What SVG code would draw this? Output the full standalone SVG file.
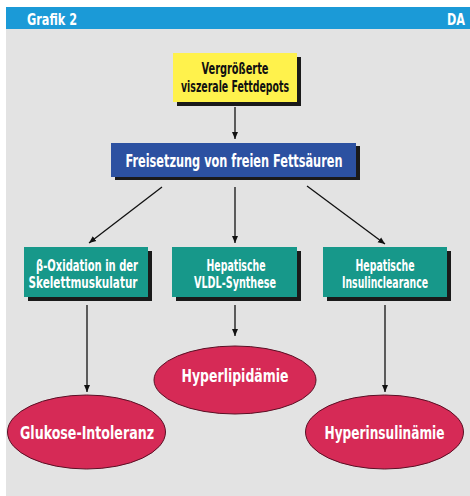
<svg xmlns="http://www.w3.org/2000/svg" width="470" height="496" viewBox="0 0 470 496">
<defs>
<marker id="ah" markerWidth="8" markerHeight="8" refX="7" refY="4" orient="auto" markerUnits="userSpaceOnUse">
<path d="M0,1 L7,4 L0,7 z" fill="#111"/>
</marker>
<style>
text{font-family:"DejaVu Sans Condensed","Liberation Sans Narrow","Liberation Sans",sans-serif;font-weight:bold;text-anchor:middle}
.shadow{fill:#1a1a1a}
.yel{fill:#fff24c}
.blue{fill:#2c51a1}
.teal{fill:#17988a}
.ell{fill:#d62a56;stroke:#5a1025;stroke-width:1}
.w{fill:#ffffff}
.k{fill:#111111}
.conn line{stroke:#111;stroke-width:1.3;marker-end:url(#ah)}
</style>
</defs>
<rect x="0" y="0" width="470" height="496" fill="#ffffff"/>
<rect x="6" y="29" width="464" height="467" fill="#e3e3e3"/>
<g id="header">
<rect x="6" y="7" width="464" height="22" fill="#1b9ad7"/>
<text x="52" y="25" font-size="16" class="w" textLength="50" lengthAdjust="spacingAndGlyphs">Grafik 2</text>
<text x="456" y="25" font-size="16" class="w" textLength="18" lengthAdjust="spacingAndGlyphs">DA</text>
</g>
<g class="conn">
<line x1="235" y1="107" x2="235" y2="139"/>
<line x1="162" y1="187" x2="89" y2="243"/>
<line x1="235" y1="187" x2="235" y2="243"/>
<line x1="307" y1="186" x2="385" y2="244"/>
<line x1="87" y1="305" x2="87" y2="392"/>
<line x1="235" y1="305" x2="235" y2="336"/>
<line x1="385" y1="305" x2="385" y2="392"/>
</g>
<g id="fettdepots">
<rect x="177" y="57" width="124" height="49" class="shadow"/>
<rect x="173" y="53" width="124" height="49" class="yel"/>
<text x="235" y="73.5" font-size="16" class="k" textLength="67" lengthAdjust="spacingAndGlyphs">Vergrößerte</text>
<text x="235" y="92" font-size="16" class="k" textLength="108" lengthAdjust="spacingAndGlyphs">viszerale Fettdepots</text>
</g>
<g id="fettsaeuren">
<rect x="115" y="146" width="245" height="34" class="shadow"/>
<rect x="111" y="143" width="245" height="34" class="blue"/>
<text x="234" y="167" font-size="18" class="w" textLength="217" lengthAdjust="spacingAndGlyphs">Freisetzung von freien Fettsäuren</text>
</g>
<g id="oxidation">
<rect x="28" y="251" width="124" height="50" class="shadow"/>
<rect x="24" y="247" width="124" height="50" class="teal"/>
<text x="87" y="271" font-size="15.5" class="w" textLength="102" lengthAdjust="spacingAndGlyphs">β-Oxidation in der</text>
<text x="83" y="288" font-size="15.5" class="w" textLength="109" lengthAdjust="spacingAndGlyphs">Skelettmuskulatur</text>
</g>
<g id="vldl">
<rect x="176" y="251" width="125" height="50" class="shadow"/>
<rect x="172" y="247" width="125" height="50" class="teal"/>
<text x="236" y="271" font-size="15.5" class="w" textLength="59" lengthAdjust="spacingAndGlyphs">Hepatische</text>
<text x="235" y="288" font-size="15.5" class="w" textLength="82" lengthAdjust="spacingAndGlyphs">VLDL-Synthese</text>
</g>
<g id="insulinclearance">
<rect x="327" y="251" width="124" height="50" class="shadow"/>
<rect x="323" y="247" width="124" height="50" class="teal"/>
<text x="385" y="271" font-size="15.5" class="w" textLength="59" lengthAdjust="spacingAndGlyphs">Hepatische</text>
<text x="385" y="288" font-size="15.5" class="w" textLength="86" lengthAdjust="spacingAndGlyphs">Insulinclearance</text>
</g>
<g id="hyperlipidaemie">
<ellipse cx="235" cy="380" rx="81" ry="34" class="ell"/>
<text x="235" y="382" font-size="18" class="w" textLength="107" lengthAdjust="spacingAndGlyphs">Hyperlipidämie</text>
</g>
<g id="glukose">
<ellipse cx="86.5" cy="432" rx="79" ry="37" class="ell"/>
<text x="87" y="439" font-size="18" class="w" textLength="134" lengthAdjust="spacingAndGlyphs">Glukose-Intoleranz</text>
</g>
<g id="hyperinsulinaemie">
<ellipse cx="384.5" cy="432" rx="79" ry="37" class="ell"/>
<text x="384.5" y="439" font-size="18" class="w" textLength="120" lengthAdjust="spacingAndGlyphs">Hyperinsulinämie</text>
</g>
</svg>
